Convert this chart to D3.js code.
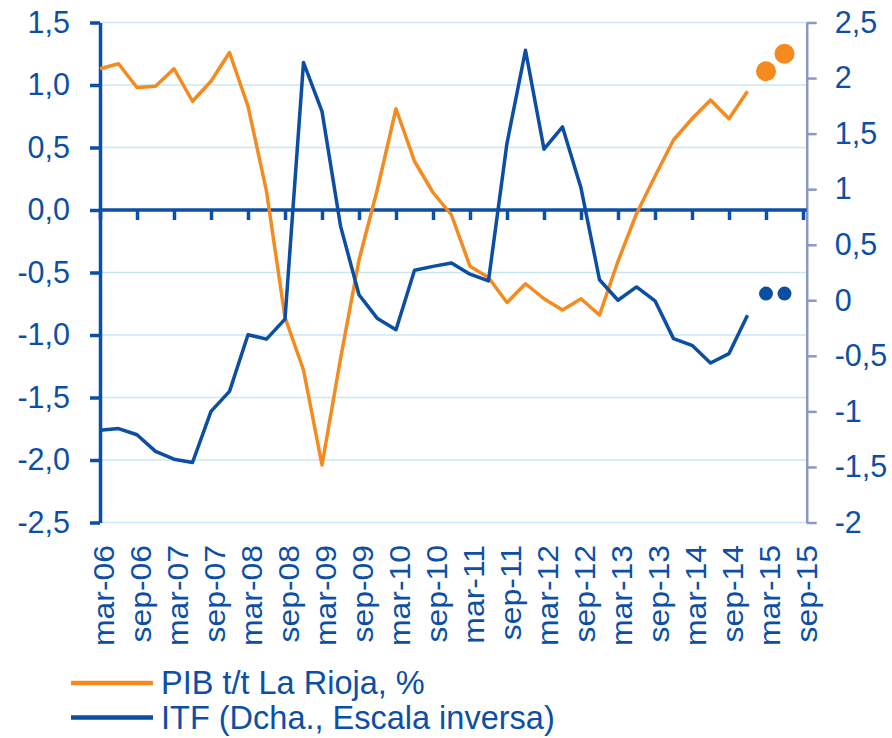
<!DOCTYPE html>
<html>
<head>
<meta charset="utf-8">
<script src="https://cdn.jsdelivr.net/npm/d3@7"></script>
<style>
  body { margin: 0; background: #fff; }
  svg { display: block; font-family: "Liberation Sans", Arial, sans-serif; }
</style>
</head>
<body>
<div class="container"></div>
<script>
// quarters mar-06 .. sep-15 (index 0..38), labels every second quarter
var tickLabels = ["mar-06","sep-06","mar-07","sep-07","mar-08","sep-08","mar-09","sep-09",
  "mar-10","sep-10","mar-11","sep-11","mar-12","sep-12","mar-13","sep-13",
  "mar-14","sep-14","mar-15","sep-15"];

// PIB t/t La Rioja, % (left axis), mar-06 .. dec-14
var pib = [1.13, 1.17, 0.98, 0.99, 1.13, 0.87, 1.03, 1.26, 0.83, 0.15,
  -0.86, -1.28, -2.04, -1.19, -0.40, 0.17, 0.81, 0.39, 0.14, -0.04,
  -0.45, -0.54, -0.74, -0.59, -0.71, -0.80, -0.71, -0.84, -0.41, -0.03,
  0.27, 0.56, 0.73, 0.88, 0.73, 0.95];
// forecasts mar-15, jun-15
var pibForecast = [1.11, 1.25];

// ITF (right axis), mar-06 .. dec-14
var itf = [-1.17, -1.155, -1.21, -1.36, -1.43, -1.46, -1.0, -0.82, -0.31, -0.35,
  -0.17, 2.14, 1.70, 0.67, 0.05, -0.165, -0.265, 0.27, 0.305, 0.335,
  0.235, 0.175, 1.415, 2.25, 1.36, 1.56, 1.01, 0.185, 0.0, 0.12,
  -0.005, -0.345, -0.405, -0.565, -0.48, -0.135];
var itfForecast = [0.06, 0.06];

var leftTicks = [1.5, 1.0, 0.5, 0.0, -0.5, -1.0, -1.5, -2.0, -2.5];
var rightTicks = [2.5, 2, 1.5, 1, 0.5, 0, -0.5, -1, -1.5, -2];

const WIDTH = 892;
const HEIGHT = 738;
const LEFT = 100;
const RIGHT = 806.7;
const TOP = 22.5;
const BOTTOM = 522.5;

const BLUE = "#0d4fa6";
const NAVY = "#0b4ea2";
const ORANGE = "#f58a1f";
const GRID = "#c8e7f6";
const RAXIS = "#8a98c2";

var svg = d3.select('.container').append('svg')
  .attr('width', WIDTH)
  .attr('height', HEIGHT);

var xScale = d3.scaleLinear().domain([0, 38]).range([LEFT, 803]);
var yLeft = d3.scaleLinear().domain([-2.5, 1.5]).range([BOTTOM, TOP]);
var yRight = d3.scaleLinear().domain([-2, 2.5]).range([BOTTOM, TOP]);

var translate = function(x, y) {
  return "translate(" + x + "," + y + ")";
};

// gridlines
svg.append('g').selectAll('line')
  .data(leftTicks.filter(function(d) { return d !== 0; }))
  .enter().append('line')
  .attr('x1', LEFT).attr('x2', RIGHT)
  .attr('y1', function(d) { return yLeft(d); })
  .attr('y2', function(d) { return yLeft(d); })
  .attr('stroke', GRID)
  .attr('stroke-width', 1.5);

// left axis
var leftAxis = d3.axisLeft(yLeft)
  .tickValues(leftTicks)
  .tickSize(10)
  .tickSizeOuter(0)
  .tickPadding(20)
  .tickFormat(function(d) { return d.toFixed(1).replace('.', ','); });

var gl = svg.append('g').attr('transform', translate(LEFT, 0)).call(leftAxis);
gl.selectAll('path, line').attr('stroke', BLUE).attr('stroke-width', 3.5);
gl.selectAll('text').attr('fill', BLUE).style('font-size', '30.5px');

// right axis
var rightAxis = d3.axisRight(yRight)
  .tickValues(rightTicks)
  .tickSize(10)
  .tickSizeOuter(0)
  .tickPadding(18)
  .tickFormat(function(d) { return String(d).replace('.', ','); });

var gr = svg.append('g').attr('transform', translate(RIGHT, 0)).call(rightAxis);
gr.selectAll('path, line').attr('stroke', RAXIS).attr('stroke-width', 2.5);
gr.selectAll('text').attr('fill', BLUE).style('font-size', '30.5px');

// category axis crossing at zero
var evenIdx = tickLabels.map(function(d, i) { return i * 2; });
var xAxis = d3.axisBottom(xScale)
  .tickValues(evenIdx)
  .tickSize(10)
  .tickSizeOuter(0)
  .tickFormat('');
var gx = svg.append('g').attr('transform', translate(0, yLeft(0))).call(xAxis);
gx.select('.domain').attr('d', 'M' + LEFT + ',0H' + RIGHT);
gx.selectAll('path, line').attr('stroke', BLUE).attr('stroke-width', 3.5);

// category labels at the bottom
svg.append('g').selectAll('text')
  .data(tickLabels)
  .enter().append('text')
  .attr('transform', function(d, i) {
    return translate(xScale(i * 2) + 14, 545) + " rotate(-90) scale(1.1,1)";
  })
  .attr('text-anchor', 'end')
  .attr('fill', BLUE)
  .style('font-size', '29px')
  .text(function(d) { return d; });

// lines
var pibLine = d3.line()
  .x(function(d, i) { return xScale(i); })
  .y(function(d) { return yLeft(d); });

var itfLine = d3.line()
  .x(function(d, i) { return xScale(i); })
  .y(function(d) { return yRight(d); });

svg.append('path')
  .datum(pib)
  .attr('d', pibLine)
  .attr('fill', 'none')
  .attr('stroke', ORANGE)
  .attr('stroke-width', 3.5)
  .attr('stroke-linejoin', 'round');

svg.append('path')
  .datum(itf)
  .attr('d', itfLine)
  .attr('fill', 'none')
  .attr('stroke', NAVY)
  .attr('stroke-width', 3.5)
  .attr('stroke-linejoin', 'round');

// forecast dots
svg.append('g').selectAll('circle')
  .data(pibForecast)
  .enter().append('circle')
  .attr('cx', function(d, i) { return xScale(pib.length + i); })
  .attr('cy', function(d) { return yLeft(d); })
  .attr('r', 10)
  .attr('fill', ORANGE);

svg.append('g').selectAll('circle')
  .data(itfForecast)
  .enter().append('circle')
  .attr('cx', function(d, i) { return xScale(itf.length + i); })
  .attr('cy', function(d) { return yRight(d); })
  .attr('r', 7)
  .attr('fill', NAVY);

// legend
var legendItems = [
  {label: "PIB t/t La Rioja, %", color: ORANGE},
  {label: "ITF (Dcha., Escala inversa)", color: NAVY}
];

var legend = svg.append('g').selectAll('g')
  .data(legendItems)
  .enter().append('g')
  .attr('transform', function(d, i) { return translate(0, 683 + i * 34.5); });

legend.append('line')
  .attr('x1', 71).attr('x2', 153)
  .attr('y1', 0).attr('y2', 0)
  .attr('stroke', function(d) { return d.color; })
  .attr('stroke-width', 4.5);

legend.append('text')
  .attr('x', 161)
  .attr('y', 11)
  .attr('fill', BLUE)
  .style('font-size', '32.5px')
  .text(function(d) { return d.label; });
</script>
</body>
</html>
